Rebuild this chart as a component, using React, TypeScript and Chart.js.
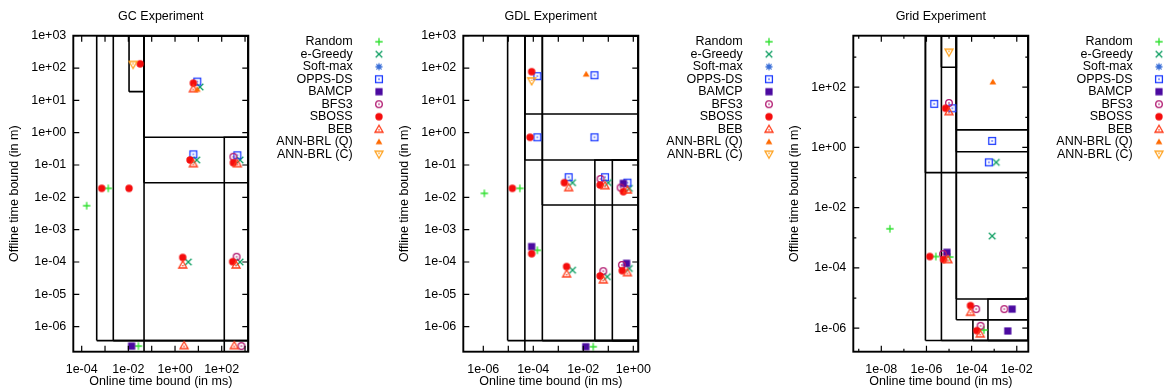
import React, { useEffect, useRef } from "react";
import { Chart, registerables } from "chart.js";

Chart.register(...registerables);

type Pt = [number, number];
type Rect = [number, number, number, number]; // x1, x2, y1, y2

const FONT = "'Liberation Sans', Arial, Helvetica, sans-serif";

const seriesLabels = ["Random", "e-Greedy", "Soft-max", "OPPS-DS", "BAMCP", "BFS3", "SBOSS", "BEB", "ANN-BRL (Q)", "ANN-BRL (C)"];
const seriesColors = ["#2fe02f", "#12a065", "#3a6fd8", "#1e3cff", "#4b0aa0", "#b0166e", "#f50d0d", "#ff3a18", "#ff6a00", "#ffa11c"];
const seriesMarkers = ["plus", "cross", "star", "squareDot", "squareFill", "circleDot", "circleFill", "triDot", "triFill", "triDownDot"];

const xTitle = "Online time bound (in ms)";
const yTitle = "Offline time bound (in m)";

// ---------------- GC Experiment ----------------
const gcTitle = "GC Experiment";
const gcXRange = [4.37e-5, 1380];
const gcYRange = [1.68e-7, 1000];
const gcXTicks = [1e-4, 1e-2, 1, 1e2];
const gcXMinorTicks = [1e-3, 1e-1, 1e1, 1e3];
const gcYTicks = [1e-6, 1e-5, 1e-4, 1e-3, 1e-2, 1e-1, 1, 1e1, 1e2, 1e3];
const gcYMinorTicks: number[] = [];
const gcRandom: Pt[] = [[1.63e-4, 5.5e-3], [1.38e-3, 0.019], [0.027, 2.5e-7]];
const gcEGreedy: Pt[] = [[11.8, 26], [8.5, 0.143], [610, 0.143], [3.7, 1.0e-4], [610, 1.0e-4]];
const gcSoftMax: Pt[] = [];
const gcOppsDs: Pt[] = [[9, 38], [6.1, 0.214], [468, 0.2]];
const gcBamcp: Pt[] = [[0.0138, 2.5e-7]];
const gcBfs3: Pt[] = [[316, 0.18], [436, 1.45e-4], [700, 2.5e-7]];
const gcSboss: Pt[] = [[7.2e-4, 0.019], [0.0107, 0.019], [0.032, 135], [6.1, 34], [4.4, 0.143], [2.14, 1.38e-4], [316, 0.117], [295, 1.02e-4]];
const gcBeb: Pt[] = [[6.1, 23], [6.1, 0.11], [468, 0.11], [2.14, 8.1e-5], [410, 8.1e-5], [2.45, 2.6e-7], [347, 2.6e-7]];
const gcAnnQ: Pt[] = [[9, 22]];
const gcAnnC: Pt[] = [[0.016, 129]];
const gcBoxes: Rect[] = [
  [4.4e-4, 1380, 3.7e-7, 1000],
  [2.26e-3, 1380, 3.7e-7, 1000],
  [0.0107, 0.047, 18.6, 1000],
  [0.047, 1380, 1.68e-7, 1000],
  [0.047, 1380, 0.72, 1000],
  [0.047, 1380, 0.0284, 1000],
  [129, 1380, 1.68e-7, 0.72],
];

// ---------------- GDL Experiment ----------------
const gdlTitle = "GDL Experiment";
const gdlXRange = [1.585e-7, 1.585];
const gdlYRange = [1.68e-7, 1000];
const gdlXTicks = [1e-6, 1e-4, 1e-2, 1];
const gdlXMinorTicks = [1e-5, 1e-3, 1e-1];
const gdlYTicks = [1e-6, 1e-5, 1e-4, 1e-3, 1e-2, 1e-1, 1, 1e1, 1e2, 1e3];
const gdlYMinorTicks: number[] = [];
const gdlRandom: Pt[] = [[1.1e-6, 0.0133], [2.9e-5, 0.019], [1.45e-4, 2.3e-4], [0.025, 2.4e-7]];
const gdlEGreedy: Pt[] = [[3.7e-3, 0.0284], [0.1, 0.0284], [0.69, 0.019], [3.7e-3, 5.6e-5], [0.091, 3.5e-5], [0.69, 6.3e-5]];
const gdlSoftMax: Pt[] = [];
const gdlOppsDs: Pt[] = [[1.45e-4, 56], [0.028, 60], [1.45e-4, 0.72], [0.028, 0.72], [2.6e-3, 0.042], [0.074, 0.042], [0.58, 0.0284]];
const gdlBamcp: Pt[] = [[8.6e-5, 3e-4], [0.0126, 2.4e-7], [0.4, 0.027], [0.54, 9.1e-5]];
const gdlBfs3: Pt[] = [[0.049, 0.037], [0.31, 0.02], [0.063, 5.2e-5], [0.35, 8.1e-5]];
const gdlSboss: Pt[] = [[1.45e-5, 0.019], [8.6e-5, 77], [7.4e-5, 0.72], [8.6e-5, 1.8e-4], [1.74e-3, 0.0284], [2.15e-3, 7.2e-5], [0.047, 0.024], [0.047, 3.7e-5], [0.4, 0.015], [0.36, 5.4e-5]];
const gdlBeb: Pt[] = [[2.6e-3, 0.02], [0.074, 0.023], [0.58, 0.017], [2.15e-3, 4.3e-5], [0.063, 2.8e-5], [0.58, 4.7e-5]];
const gdlAnnQ: Pt[] = [[0.013, 65]];
const gdlAnnC: Pt[] = [[8.6e-5, 40]];
const gdlBoxes: Rect[] = [
  [9.4e-6, 1.585, 3.7e-7, 1000],
  [4.6e-5, 1.585, 1.68e-7, 1000],
  [2.3e-4, 1.585, 3.7e-7, 1000],
  [4.6e-5, 1.585, 3.8, 1000],
  [4.6e-5, 1.585, 0.143, 1000],
  [2.3e-4, 1.585, 5.8e-3, 1000],
  [0.029, 1.585, 3.7e-7, 0.143],
  [0.145, 1.585, 3.7e-7, 0.143],
];

// ---------------- Grid Experiment ----------------
const gridTitle = "Grid Experiment";
const gridXRange = [5.75e-10, 0.0324];
const gridYRange = [1.66e-7, 5130];
const gridXTicks = [1e-8, 1e-6, 1e-4, 1e-2];
const gridXMinorTicks = [1e-9, 1e-7, 1e-5, 1e-3];
const gridYTicks = [1e-6, 1e-4, 1e-2, 1, 1e2];
const gridYMinorTicks = [1e-5, 1e-3, 1e-1, 1e1, 1e3];
const gridRandom: Pt[] = [[2.4e-8, 2.0e-3], [2.6e-6, 2.4e-4], [1.07e-5, 2.3e-4], [3.5e-4, 8.7e-7]];
const gridEGreedy: Pt[] = [[1.23e-3, 0.32], [8.1e-4, 1.15e-3]];
const gridSoftMax: Pt[] = [];
const gridOppsDs: Pt[] = [[2.2e-6, 28], [1.4e-5, 20], [8.1e-4, 1.65], [5.8e-4, 0.32]];
const gridBamcp: Pt[] = [[8.1e-6, 3.3e-4], [6.2e-3, 4.3e-6], [4.0e-3, 8.1e-7]];
const gridBfs3: Pt[] = [[9.9e-6, 30], [5.4e-6, 2.9e-4], [1.6e-4, 4.3e-6], [2.8e-3, 4.3e-6], [2.5e-4, 1.2e-6]];
const gridSboss: Pt[] = [[1.4e-6, 2.4e-4], [7.0e-6, 20], [5.7e-6, 1.9e-4], [8.9e-5, 5.6e-6], [1.7e-4, 8.3e-7]];
const gridBeb: Pt[] = [[9.9e-6, 15.5], [8.9e-6, 1.9e-4], [8.9e-5, 3.4e-6], [2.4e-4, 6.5e-7]];
const gridAnnQ: Pt[] = [[8.7e-4, 150]];
const gridAnnC: Pt[] = [[9.9e-6, 1450]];
const gridBoxes: Rect[] = [
  [9.0e-7, 0.0324, 3.9e-7, 5130],
  [9.0e-7, 0.0324, 0.146, 5130],
  [4.6e-6, 0.0324, 3.9e-7, 5130],
  [4.6e-6, 2.1e-5, 460, 5130],
  [2.1e-5, 0.0324, 1.9e-6, 5130],
  [2.1e-5, 0.0324, 3.83, 5130],
  [2.1e-5, 0.0324, 0.72, 5130],
  [2.1e-5, 0.0324, 9.3e-6, 5130],
  [1.14e-4, 0.0324, 3.9e-7, 1.9e-6],
  [5.3e-4, 0.0324, 3.9e-7, 9.3e-6],
];

type PanelCfg = {
  title: string;
  xRange: number[];
  yRange: number[];
  xTicks: number[];
  xMinor: number[];
  xMinorLen: number;
  yTicks: number[];
  yMinor: number[];
  series: Pt[][];
  boxes: Rect[];
};

const panels: PanelCfg[] = [
  {
    title: gcTitle, xRange: gcXRange, yRange: gcYRange, xTicks: gcXTicks, xMinor: gcXMinorTicks, xMinorLen: 6,
    yTicks: gcYTicks, yMinor: gcYMinorTicks,
    series: [gcRandom, gcEGreedy, gcSoftMax, gcOppsDs, gcBamcp, gcBfs3, gcSboss, gcBeb, gcAnnQ, gcAnnC],
    boxes: gcBoxes,
  },
  {
    title: gdlTitle, xRange: gdlXRange, yRange: gdlYRange, xTicks: gdlXTicks, xMinor: gdlXMinorTicks, xMinorLen: 6,
    yTicks: gdlYTicks, yMinor: gdlYMinorTicks,
    series: [gdlRandom, gdlEGreedy, gdlSoftMax, gdlOppsDs, gdlBamcp, gdlBfs3, gdlSboss, gdlBeb, gdlAnnQ, gdlAnnC],
    boxes: gdlBoxes,
  },
  {
    title: gridTitle, xRange: gridXRange, yRange: gridYRange, xTicks: gridXTicks, xMinor: gridXMinorTicks, xMinorLen: 3,
    yTicks: gridYTicks, yMinor: gridYMinorTicks,
    series: [gridRandom, gridEGreedy, gridSoftMax, gridOppsDs, gridBamcp, gridBfs3, gridSboss, gridBeb, gridAnnQ, gridAnnC],
    boxes: gridBoxes,
  },
];

const panelLefts = [0, 390, 780];
const CANVAS_W = 391;
const CANVAS_H = 392;

function fmtExp(v: number): string {
  const e = Math.round(Math.log10(v));
  const s = e < 0 ? "-" : "+";
  return `1e${s}${String(Math.abs(e)).padStart(2, "0")}`;
}

function makeMarker(kind: string, color: string): HTMLCanvasElement {
  const c = document.createElement("canvas");
  c.width = 12;
  c.height = 12;
  const g = c.getContext("2d")!;
  const m = 6;
  g.strokeStyle = color;
  g.fillStyle = color;
  g.lineWidth = 1.3;
  const dot = (yy = m) => g.fillRect(m - 0.7, yy - 0.7, 1.4, 1.4);
  g.beginPath();
  switch (kind) {
    case "plus":
      g.moveTo(m - 3.7, m); g.lineTo(m + 3.7, m);
      g.moveTo(m, m - 3.7); g.lineTo(m, m + 3.7);
      g.stroke();
      break;
    case "cross":
      g.moveTo(m - 3.3, m - 3.3); g.lineTo(m + 3.3, m + 3.3);
      g.moveTo(m - 3.3, m + 3.3); g.lineTo(m + 3.3, m - 3.3);
      g.stroke();
      break;
    case "star":
      g.moveTo(m - 3.5, m); g.lineTo(m + 3.5, m);
      g.moveTo(m, m - 3.5); g.lineTo(m, m + 3.5);
      g.moveTo(m - 2.6, m - 2.6); g.lineTo(m + 2.6, m + 2.6);
      g.moveTo(m - 2.6, m + 2.6); g.lineTo(m + 2.6, m - 2.6);
      g.stroke();
      break;
    case "squareDot":
      g.strokeRect(m - 3.4, m - 3.4, 6.8, 6.8);
      dot();
      break;
    case "squareFill":
      g.fillRect(m - 3.6, m - 3.6, 7.2, 7.2);
      break;
    case "circleDot":
      g.arc(m, m, 3.3, 0, Math.PI * 2);
      g.stroke();
      dot();
      break;
    case "circleFill":
      g.arc(m, m, 3.7, 0, Math.PI * 2);
      g.fill();
      break;
    case "triDot":
      g.moveTo(m, m - 4); g.lineTo(m - 4, m + 3); g.lineTo(m + 4, m + 3); g.closePath();
      g.stroke();
      dot(m + 0.7);
      break;
    case "triFill":
      g.moveTo(m, m - 3.3); g.lineTo(m - 3.4, m + 2.6); g.lineTo(m + 3.4, m + 2.6); g.closePath();
      g.fill();
      break;
    case "triDownDot":
      g.moveTo(m, m + 4); g.lineTo(m - 4, m - 3); g.lineTo(m + 4, m - 3); g.closePath();
      g.stroke();
      dot(m - 0.7);
      break;
  }
  return c;
}

function buildConfig(p: PanelCfg): any {
  const markers = seriesMarkers.map((k, i) => makeMarker(k, seriesColors[i]));

  const boxSets = p.boxes.map(([x1, x2, y1, y2]) => ({
    label: "box",
    data: [
      { x: x1, y: y1 }, { x: x2, y: y1 }, { x: x2, y: y2 }, { x: x1, y: y2 }, { x: x1, y: y1 },
    ],
    showLine: true,
    borderColor: "#000",
    backgroundColor: "#000",
    borderWidth: 1.6,
    pointRadius: 0,
    pointHoverRadius: 0,
    fill: false,
    tension: 0,
    order: 100,
  }));

  const pointSets = p.series.map((pts, i) => ({
    label: seriesLabels[i],
    data: pts.map(([x, y]) => ({ x, y })),
    showLine: false,
    pointStyle: markers[i],
    pointRadius: 4,
    pointHoverRadius: 4,
    backgroundColor: seriesColors[i],
    borderColor: seriesColors[i],
    order: 20 - i,
  }));

  const decor = {
    id: "gnuDecor",
    afterDatasetsDraw(chart: any) {
      const { ctx, chartArea: a, scales } = chart;
      const xs = scales.x;
      const ys = scales.y;
      ctx.save();
      ctx.strokeStyle = "#000";
      ctx.lineWidth = 1.2;
      ctx.beginPath();
      const xTick = (v: number, len: number) => {
        const px = xs.getPixelForValue(v);
        if (px < a.left - 0.5 || px > a.right + 0.5) return;
        ctx.moveTo(px, a.bottom); ctx.lineTo(px, a.bottom - len);
        ctx.moveTo(px, a.top); ctx.lineTo(px, a.top + len);
      };
      const yTick = (v: number, len: number) => {
        const py = ys.getPixelForValue(v);
        if (py < a.top - 0.5 || py > a.bottom + 0.5) return;
        ctx.moveTo(a.left, py); ctx.lineTo(a.left + len, py);
        ctx.moveTo(a.right, py); ctx.lineTo(a.right - len, py);
      };
      p.xTicks.forEach((v) => xTick(v, 6));
      p.xMinor.forEach((v) => xTick(v, p.xMinorLen));
      p.yTicks.forEach((v) => yTick(v, 6));
      p.yMinor.forEach((v) => yTick(v, 3));
      ctx.stroke();

      ctx.lineWidth = 1.9;
      ctx.strokeRect(a.left, a.top, a.right - a.left, a.bottom - a.top);

      ctx.fillStyle = "#000";
      ctx.font = `12.5px ${FONT}`;
      ctx.textBaseline = "middle";
      ctx.textAlign = "center";
      ctx.fillText(p.title, (a.left + a.right) / 2, 16.7);

      ctx.textAlign = "right";
      seriesLabels.forEach((lab, i) => {
        const y = 41.7 + i * 12.5;
        ctx.fillText(lab, a.right + 104.4, y);
        ctx.drawImage(markers[i], a.right + 130.7 - 6, y - 6);
      });
      ctx.restore();
    },
  };

  return {
    type: "scatter",
    data: { datasets: [...pointSets, ...boxSets] },
    plugins: [decor],
    options: {
      responsive: false,
      maintainAspectRatio: false,
      devicePixelRatio: 1,
      animation: false,
      events: [],
      layout: { padding: { left: 0, top: 35.7, right: CANVAS_W - 248.3, bottom: 0 } },
      plugins: {
        legend: { display: false },
        tooltip: { enabled: false },
        title: { display: false },
      },
      scales: {
        x: {
          type: "logarithmic",
          position: "bottom",
          min: p.xRange[0],
          max: p.xRange[1],
          bounds: "data",
          grid: { display: false, drawTicks: false },
          border: { display: false },
          afterBuildTicks: (s: any) => {
            s.ticks = p.xTicks.map((v) => ({ value: v }));
          },
          afterFit: (s: any) => {
            s.height = 40.3;
          },
          ticks: {
            autoSkip: false,
            maxRotation: 0,
            minRotation: 0,
            padding: 10.5,
            color: "#000",
            font: { size: 12.5, family: FONT },
            callback: (v: any) => fmtExp(Number(v)),
          },
          title: {
            display: true,
            text: xTitle,
            color: "#000",
            font: { size: 12.5, family: FONT },
            padding: { top: 0, bottom: 2.5 },
          },
        },
        y: {
          type: "logarithmic",
          position: "left",
          min: p.yRange[0],
          max: p.yRange[1],
          bounds: "data",
          grid: { display: false, drawTicks: false },
          border: { display: false },
          afterBuildTicks: (s: any) => {
            s.ticks = p.yTicks.map((v) => ({ value: v }));
          },
          afterFit: (s: any) => {
            s.width = 73.3;
          },
          ticks: {
            autoSkip: false,
            padding: 7,
            color: "#000",
            font: { size: 12.5, family: FONT },
            callback: (v: any) => fmtExp(Number(v)),
          },
          title: {
            display: true,
            text: yTitle,
            color: "#000",
            font: { size: 12.5, family: FONT },
            padding: { top: 7.5, bottom: 0 },
          },
        },
      },
    },
  };
}

function Panel({ cfg, left }: { cfg: PanelCfg; left: number }) {
  const ref = useRef<HTMLCanvasElement>(null);
  useEffect(() => {
    if (!ref.current) return;
    const chart = new Chart(ref.current, buildConfig(cfg));
    return () => chart.destroy();
  }, [cfg]);
  return (
    <canvas
      ref={ref}
      width={CANVAS_W}
      height={CANVAS_H}
      style={{ position: "absolute", left, top: 0, width: CANVAS_W, height: CANVAS_H }}
    />
  );
}

export default function App() {
  Chart.defaults.font.family = FONT;
  Chart.defaults.color = "#000";
  return (
    <div style={{ position: "absolute", left: 0, top: 0, width: 1173, height: 392, background: "#fff", overflow: "hidden" }}>
      {panels.map((p, i) => (
        <Panel key={p.title} cfg={p} left={panelLefts[i]} />
      ))}
    </div>
  );
}
